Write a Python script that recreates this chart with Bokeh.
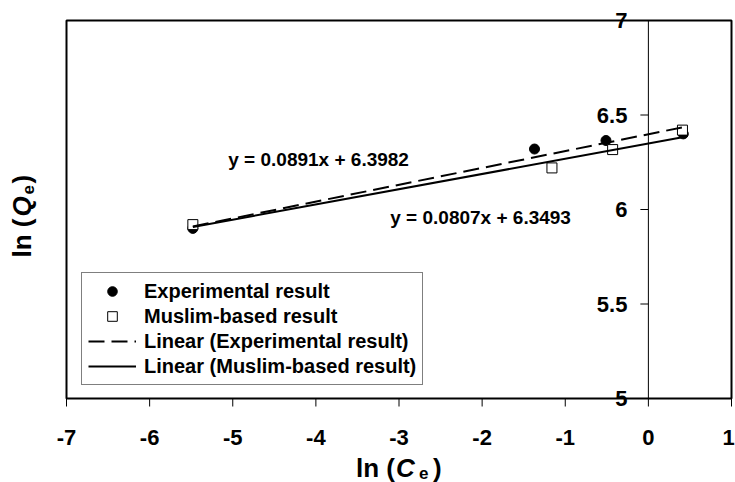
import math
from bokeh.plotting import figure
from bokeh.models import (Label, LabelSet, ColumnDataSource, Legend, LegendItem)
from bokeh.core.properties import value
from bokeh.embed import file_html
from bokeh.resources import INLINE

# ---------------- data ----------------
exp_x = [-5.48, -1.37, -0.51, 0.42]
exp_y = [5.90, 6.32, 6.365, 6.40]
mus_x = [-5.48, -1.16, -0.43, 0.41]
mus_y = [5.92, 6.22, 6.317, 6.42]

exp_fit = [0.0891, 6.3982]   # slope, intercept
mus_fit = [0.0807, 6.3493]

x_ticks = [-7, -6, -5, -4, -3, -2, -1, 0, 1]
x_tick_labels = ["-7", "-6", "-5", "-4", "-3", "-2", "-1", "0", "1"]
y_ticks = [5, 5.5, 6, 6.5, 7]
y_tick_labels = ["5", "5.5", "6", "6.5", "7"]

series_labels = ["Experimental result", "Muslim-based result",
                 "Linear (Experimental result)", "Linear (Muslim-based result)"]

x_lim = (-7, 1)
y_lim = (5, 7)

FONT = "Liberation Sans"
W, H = 735, 482
# pixel placement of the plot box inside the canvas
BOX_L, BOX_R, BOX_T, BOX_B = 66, 731, 20, 398
sx = (BOX_R - BOX_L) / (x_lim[1] - x_lim[0])
sy = (BOX_B - BOX_T) / (y_lim[1] - y_lim[0])
xr = (x_lim[0] - BOX_L / sx, x_lim[1] + (W - BOX_R) / sx)
yr = (y_lim[0] - (H - BOX_B) / sy, y_lim[1] + BOX_T / sy)

p = figure(width=W, height=H, x_range=xr, y_range=yr,
           output_backend="svg", toolbar_location=None,
           x_axis_location=None, y_axis_location=None,
           min_border=0)
p.background_fill_color = "white"
p.border_fill_color = "white"
p.outline_line_color = None
p.xgrid.visible = False
p.ygrid.visible = False

# plot box
p.quad(left=[x_lim[0]], right=[x_lim[1]], bottom=[y_lim[0]], top=[y_lim[1]],
       fill_color=None, line_color="black", line_width=2)

# x axis ticks & labels (bottom of the box)
p.ray(x=x_ticks, y=[y_lim[0]] * len(x_ticks), length=8, length_units="screen",
      angle=-math.pi / 2, line_color="black", line_width=1)
x_label_shift = [0] * (len(x_ticks) - 1) + [-3]   # keep the last label inside the page
xsrc = ColumnDataSource(dict(x=x_ticks, y=[y_lim[0]] * len(x_ticks), t=x_tick_labels,
                             dx=x_label_shift))
p.add_layout(LabelSet(x="x", y="y", text="t", source=xsrc, x_offset="dx", y_offset=-39,
                      text_align="center", text_baseline="middle",
                      text_font=value(FONT), text_font_style="bold",
                      text_font_size="22px", text_color="black"))

# y axis crossing at x = 0
p.segment(x0=[0], x1=[0], y0=[y_lim[0]], y1=[y_lim[1]], line_color="black", line_width=1)
p.ray(x=[0] * len(y_ticks), y=y_ticks, length=8, length_units="screen",
      angle=math.pi, line_color="black", line_width=1)
ysrc = ColumnDataSource(dict(x=[0] * len(y_ticks), y=y_ticks, t=y_tick_labels))
p.add_layout(LabelSet(x="x", y="y", text="t", source=ysrc, x_offset=-21,
                      text_align="right", text_baseline="middle",
                      text_font=value(FONT), text_font_style="bold",
                      text_font_size="22px", text_color="black"))

# data
r_exp = p.scatter(exp_x, exp_y, marker="circle", size=10, fill_color="black",
                  line_color="black")
r_mus = p.scatter(mus_x, mus_y, marker="square", size=10, fill_color="white",
                  line_color="black", line_width=1)

ex0, ex1 = min(exp_x), max(exp_x)
mx0, mx1 = min(mus_x), max(mus_x)
r_lexp = p.line([ex0, ex1], [exp_fit[0] * ex0 + exp_fit[1], exp_fit[0] * ex1 + exp_fit[1]],
                line_color="black", line_width=2, line_dash="16 7")
r_lmus = p.line([mx0, mx1], [mus_fit[0] * mx0 + mus_fit[1], mus_fit[0] * mx1 + mus_fit[1]],
                line_color="black", line_width=2)

# equations
eq_style = dict(text_font=FONT, text_font_style="bold", text_font_size="19px",
                text_color="black", text_baseline="middle", text_align="left")
p.add_layout(Label(x=-5.054, y=6.265, text=f"y = {exp_fit[0]:.4f}x + {exp_fit[1]:.4f}", **eq_style))
p.add_layout(Label(x=-3.105, y=5.958, text=f"y = {mus_fit[0]:.4f}x + {mus_fit[1]:.4f}", **eq_style))

# legend
legend = Legend(items=[LegendItem(label=series_labels[0], renderers=[r_exp]),
                       LegendItem(label=series_labels[1], renderers=[r_mus]),
                       LegendItem(label=series_labels[2], renderers=[r_lexp]),
                       LegendItem(label=series_labels[3], renderers=[r_lmus])],
                location=(81, H - 385))
legend.margin = 0
legend.padding = 6
legend.spacing = 1
legend.glyph_width = 48
legend.glyph_height = 24
legend.label_height = 24
legend.label_standoff = 8
legend.border_line_color = "black"
legend.border_line_width = 1
legend.background_fill_color = "white"
legend.background_fill_alpha = 1
legend.label_text_font = FONT
legend.label_text_font_style = "bold"
legend.label_text_font_size = "20px"
legend.label_text_color = "black"
p.add_layout(legend, "center")

# x title: ln (C_e)
tb = dict(text_font=FONT, text_color="black", text_baseline="alphabetic")
xc = (x_lim[0] + x_lim[1]) / 2
p.add_layout(Label(x=xc, y=y_lim[0], x_offset=-4, y_offset=-69, text="ln (", text_align="right",
                   text_font_style="bold", text_font_size="26px", **tb))
p.add_layout(Label(x=xc, y=y_lim[0], x_offset=-3, y_offset=-69, text="C", text_align="left",
                   text_font_style="bold italic", text_font_size="26px", **tb))
p.add_layout(Label(x=xc, y=y_lim[0], x_offset=20, y_offset=-74, text="e", text_align="left",
                   text_font_style="bold", text_font_size="17px", **tb))
p.add_layout(Label(x=xc, y=y_lim[0], x_offset=34, y_offset=-69, text=")", text_align="left",
                   text_font_style="bold", text_font_size="26px", **tb))

# y title: ln (Q_e), rotated
ang = math.pi / 2
yc = (y_lim[0] + y_lim[1]) / 2
p.add_layout(Label(x=x_lim[0], y=yc, x_offset=-45, y_offset=-9, text="ln (", text_align="right",
                   angle=ang, text_font_style="bold", text_font_size="26px", **tb))
p.add_layout(Label(x=x_lim[0], y=yc, x_offset=-45, y_offset=-7, text="Q", text_align="left",
                   angle=ang, text_font_style="bold italic", text_font_size="26px", **tb))
p.add_layout(Label(x=x_lim[0], y=yc, x_offset=-39, y_offset=15, text="e", text_align="left",
                   angle=ang, text_font_style="bold", text_font_size="17px", **tb))
p.add_layout(Label(x=x_lim[0], y=yc, x_offset=-45, y_offset=26, text=")", text_align="left",
                   angle=ang, text_font_style="bold", text_font_size="26px", **tb))

open("out.html", "w").write(file_html(p, INLINE))
